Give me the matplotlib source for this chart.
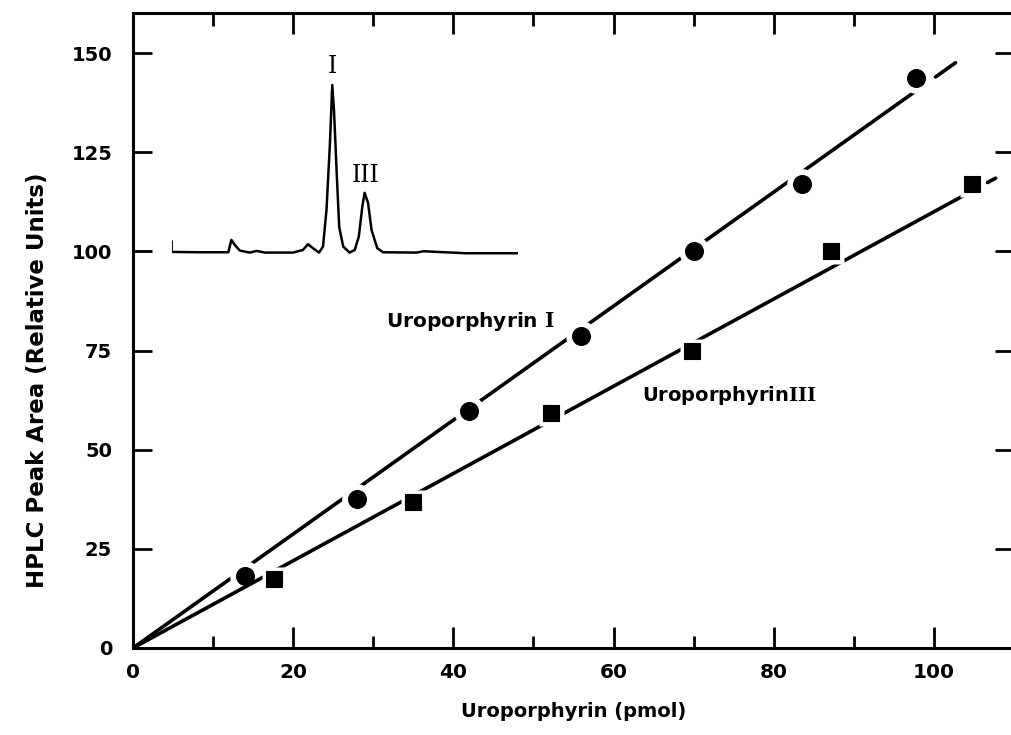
import matplotlib
matplotlib.use("Agg")
import matplotlib.pyplot as plt
import numpy as np
from matplotlib.ticker import MultipleLocator

plt.rcParams["font.family"] = "DejaVu Sans"
plt.rcParams["font.weight"] = "bold"
plt.rcParams["axes.labelweight"] = "bold"
plt.rcParams["mathtext.fontset"] = "dejavuserif"

# standard curves: peak area vs amount injected
uro1_pmol = [14.0, 28.0, 42.0, 55.9, 70.0, 83.5, 97.8]
uro1_area = [18.2, 37.6, 59.7, 78.7, 100.2, 117.0, 143.8]
uro3_pmol = [17.6, 35.0, 52.2, 69.8, 87.1, 104.8]
uro3_area = [17.4, 36.7, 59.2, 74.9, 100.2, 117.0]

# fitted lines through the origin (area per pmol)
slope_1 = 1.437
slope_3 = 1.100
ext_1 = [100.2, 102.7]   # dashed extrapolation
ext_3 = [106.7, 107.7]

# chromatogram trace (retention time, detector response)
trace_t = [0.0, 0.0, 2.45, 4.9, 5.17, 5.46, 5.9, 6.77, 7.35, 8.07, 10.5,
           11.37, 11.8, 12.24, 12.76, 13.1, 13.4, 13.7, 13.9, 14.05, 14.3,
           14.5, 14.85, 15.4, 15.85, 16.2, 16.5, 16.7, 17.0, 17.3, 17.8,
           18.3, 21.2, 21.8, 25.5, 30.0]
trace_r = [6.2, 0.0, -0.2, -0.2, 7.2, 4.2, 0.8, -0.4, 0.6, -0.4, -0.4,
           1.2, 4.6, 2.2, -0.4, 3.2, 25.0, 65.0, 100.0, 85.0, 45.0,
           15.0, 3.2, -0.4, 1.2, 9.2, 27.0, 35.4, 29.4, 13.2, 2.2,
           -0.2, -0.4, 0.4, -0.8, -0.8]
peak_labels = ["I", "III"]
peak_pos = [(13.9, 111), (16.75, 46)]

fig = plt.figure(figsize=(10.11, 7.35), dpi=100)
ax = fig.add_axes([0.1316, 0.1184, 0.8714, 0.8633])

lw = 2.6
x1 = np.array([0.0, uro1_pmol[-1]])
x3 = np.array([0.0, uro3_pmol[-1]])
ax.plot(x1, slope_1 * x1, color="black", lw=lw, solid_capstyle="round", zorder=1)
ax.plot(ext_1, slope_1 * np.array(ext_1), color="black", lw=lw,
        solid_capstyle="round", zorder=1)
ax.plot(uro1_pmol, uro1_area, "o", ms=22, color="white", mec="none", zorder=2)
ax.plot(uro1_pmol, uro1_area, "o", ms=13.7, color="black", mec="none", zorder=3)

ax.plot(x3, slope_3 * x3, color="black", lw=lw, solid_capstyle="round", zorder=4)
ax.plot(ext_3, slope_3 * np.array(ext_3), color="black", lw=lw,
        solid_capstyle="round", zorder=4)
ax.plot(uro3_pmol, uro3_area, "s", ms=18, color="white", mec="none", zorder=5)
ax.plot(uro3_pmol, uro3_area, "s", ms=11.5, color="black", mec="black",
        mew=0.8, zorder=6)

ax.text(42.1, 82.4, r"Uroporphyrin $\mathbf{I}$", fontsize=14.5,
        ha="center", va="center")
ax.text(74.5, 63.7, r"Uroporphyrin$\mathbf{III}$", fontsize=14,
        ha="center", va="center")

ax.set_xlim(0, 110)
ax.set_ylim(0, 160)
ax.set_xticks([0, 20, 40, 60, 80, 100])
ax.xaxis.set_minor_locator(MultipleLocator(10))
ax.set_yticks([0, 25, 50, 75, 100, 125, 150])
ax.tick_params(axis="x", which="major", direction="in", length=15, width=2,
               top=True, labelsize=14.5, pad=11)
ax.tick_params(axis="x", which="minor", direction="in", length=9, width=2,
               top=True)
ax.tick_params(axis="y", direction="in", length=13.5, width=2, right=True,
               labelsize=14, pad=15)
for s in ax.spines.values():
    s.set_linewidth(2.2)

ax.set_xlabel("Uroporphyrin (pmol)", fontsize=14, labelpad=14)
ax.set_ylabel("HPLC Peak Area (Relative Units)", fontsize=16.5)
ax.yaxis.set_label_coords(-0.095, 0.422)

# inset chromatogram
ins = fig.add_axes([0.1698, 0.6459, 0.3428, 0.2498])
ins.plot(trace_t, trace_r, color="black", lw=1.8, solid_joinstyle="round")
ins.set_xlim(0, 30)
ins.set_ylim(-5, 105)
ins.axis("off")
for lab, (tx, ty) in zip(peak_labels, peak_pos):
    ins.text(tx, ty, lab, family="DejaVu Serif", fontweight="normal",
             fontsize=17, ha="center", va="center", clip_on=False)

fig.savefig("out.png", dpi=100)
